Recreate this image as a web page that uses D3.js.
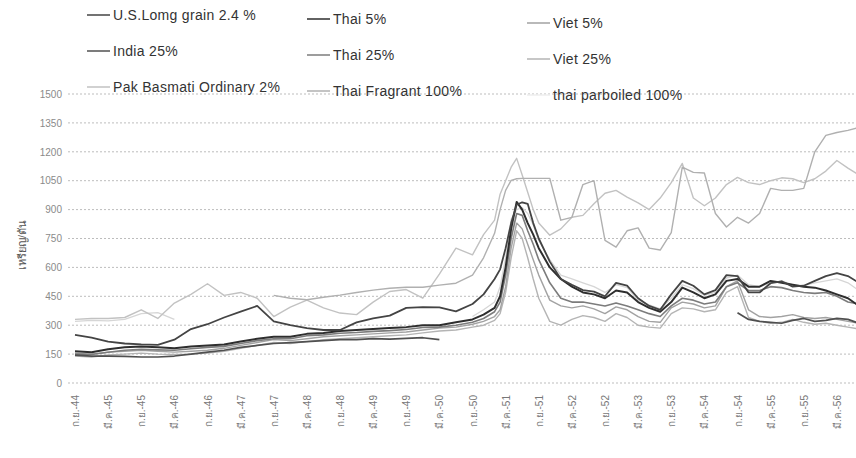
<!DOCTYPE html>
<html>
<head>
<meta charset="utf-8">
<script src="https://cdn.jsdelivr.net/npm/d3@7"></script>
<style>
  body { margin: 0; background: #fff; }
  svg { display: block; font-family: "Liberation Sans", Arial, sans-serif; }
</style>
</head>
<body>
<script>
// month index from ก.ย.-44 (Sep 2001)
const months = [0,3,6,9,12,15,18,21,24,27,30,33,36,39,42,45,48,51,54,57,60,63,66,69,72,
  74,76,77,78,79,80,81,82,83,84,
  86,88,90,92,94,96,98,100,102,104,106,108,110,112,114,116,118,120,122,124,126,128,130,132,134,136,138,140,142,144];

const xLabels = ['ก.ย.-44','มี.ค.-45','ก.ย.-45','มี.ค.-46','ก.ย.-46','มี.ค.-47','ก.ย.-47','มี.ค.-48',
  'ก.ย.-48','มี.ค.-49','ก.ย.-49','มี.ค.-50','ก.ย.-50','มี.ค.-51','ก.ย.-51','มี.ค.-52','ก.ย.-52',
  'มี.ค.-53','ก.ย.-53','มี.ค.-54','ก.ย.-54','มี.ค.-55','ก.ย.-55','มี.ค.-56','ก.ย.-56'];

const yTicks = [0,150,300,450,600,750,900,1050,1200,1350,1500];

const usLongGrain = [250,235,215,205,200,198,225,280,305,340,370,400,320,300,285,275,275,315,335,350,390,394,392,372,410,
  460,540,590,700,830,925,938,930,830,750,
  630,540,510,482,474,450,520,505,440,400,380,460,530,505,460,482,560,555,470,470,518,528,500,505,530,555,570,555,520,510];

const thai5 = [165,160,175,185,190,185,180,190,195,200,215,230,240,240,255,260,270,275,280,285,290,300,300,315,330,
  355,390,450,600,800,940,900,830,770,700,
  600,540,500,470,460,440,480,470,420,390,370,420,495,470,440,460,530,540,500,500,530,520,510,500,495,480,460,440,400,380];

const viet5 = [155,150,160,165,170,165,160,165,170,180,195,210,225,220,230,240,245,250,255,260,265,275,285,290,305,
  320,345,380,500,700,830,800,720,640,560,
  430,400,390,400,385,360,395,380,345,320,315,390,420,410,390,400,500,530,380,345,340,345,355,340,335,340,330,320,310,300];

const india25 = [145,140,140,138,135,135,140,150,160,170,185,195,205,210,215,220,225,225,230,228,232,235,225,null,null,
  null,null,null,null,null,null,null,null,null,null,
  null,null,null,null,null,null,null,null,null,null,null,null,null,null,null,null,null,365,330,320,315,310,325,335,320,325,335,330,310,300];

const thai25 = [150,148,160,170,175,172,170,178,185,190,205,220,230,230,245,250,258,262,268,272,278,288,290,300,315,
  335,370,420,560,750,880,870,790,720,640,
  520,440,420,420,410,400,415,400,380,360,345,400,440,430,410,420,500,520,480,480,500,495,480,470,465,470,450,420,410,400];

const viet25 = [140,135,145,150,155,150,148,150,155,165,180,195,210,205,215,225,230,235,240,245,250,260,270,275,290,
  300,325,360,470,650,790,750,650,540,440,
  320,300,330,350,340,320,360,340,300,290,285,360,390,385,370,380,470,500,340,320,310,315,330,315,305,310,300,290,280,270];

const pakBasmati = [330,335,335,340,380,335,415,460,515,455,470,440,345,394,430,390,363,355,420,475,485,440,565,700,665,
  770,845,980,1050,1120,1166,1080,990,900,830,
  767,800,860,870,930,985,1000,965,935,900,960,1040,1140,960,920,960,1030,1067,1040,1030,1050,1065,1060,1040,1060,1100,1155,1115,1080,1060];

const thaiFragrant = [null,null,null,null,null,null,null,null,null,null,null,null,455,440,432,445,456,470,482,492,497,497,508,518,560,
  650,777,900,1000,1052,1060,1062,1062,1062,1062,
  1062,845,860,1030,1050,740,705,790,805,700,690,780,1120,1093,1090,880,810,860,830,880,1010,1000,1000,1010,1200,1285,1300,1311,1326,1340];

const thaiParboiled = [320,325,322,330,360,365,330,null,null,null,null,null,null,null,null,null,null,null,null,null,null,null,null,null,345,
  380,420,500,650,850,900,910,880,820,740,
  640,560,540,520,500,470,510,495,430,405,385,440,510,490,455,470,545,560,510,500,520,530,510,505,520,530,540,520,480,450];

const seriesNames = ['U.S.Lomg grain 2.4 %','Thai 5%','Viet 5%','India 25%','Thai 25%','Viet 25%',
  'Pak Basmati Ordinary 2%','Thai Fragrant 100%','thai parboiled 100%'];
const seriesValues = [usLongGrain, thai5, viet5, india25, thai25, viet25, pakBasmati, thaiFragrant, thaiParboiled];
const seriesColors = ['#444','#2e2e2e','#a2a2a2','#505050','#7c7c7c','#b4b4b4','#c2c2c2','#b0b0b0','#d6d6d6'];
const seriesWidths = [1.8, 2, 1.4, 1.7, 1.6, 1.4, 1.4, 1.4, 1.3];
// draw light lines first so the dark ones sit on top
const drawOrder = [8, 6, 7, 5, 2, 4, 3, 1, 0];

const width = 856, height = 458;

const svg = d3.select('body').append('svg')
    .attr('width', width)
    .attr('height', height)
    .style('background', '#fff');

const x = d3.scaleLinear().domain([0, 144]).range([75, 870]);
const y = d3.scaleLinear().domain([0, 1500]).range([383, 94]);

// gridlines
svg.append('g')
    .selectAll('line')
    .data(yTicks)
    .join('line')
    .attr('x1', 68)
    .attr('x2', width)
    .attr('y1', d => y(d))
    .attr('y2', d => y(d))
    .attr('stroke', '#bdbdbd')
    .attr('stroke-width', 1)
    .attr('stroke-dasharray', '2,2');

// y axis labels
const yAxis = d3.axisLeft(y).tickValues(yTicks).tickFormat(d3.format('d')).tickSize(0).tickPadding(0);
svg.append('g')
    .attr('transform', 'translate(62,0)')
    .call(yAxis)
    .call(g => g.select('.domain').remove())
    .call(g => g.selectAll('text')
        .attr('fill', '#8a8a8a')
        .attr('font-size', '10px')
        .attr('font-family', '"Liberation Sans", Arial, sans-serif'));

// y axis title
svg.append('text')
    .attr('transform', 'translate(26,245) rotate(-90)')
    .attr('text-anchor', 'middle')
    .attr('fill', '#555')
    .attr('font-size', '11px')
    .text('เหรียญ/ตัน');

// x axis labels, one every 6 months
const xAxis = d3.axisBottom(x)
    .tickValues(xLabels.map((d, i) => i * 6))
    .tickFormat((d, i) => xLabels[i])
    .tickSize(0);
svg.append('g')
    .attr('transform', 'translate(0,393)')
    .call(xAxis)
    .call(g => g.select('.domain').remove())
    .call(g => g.selectAll('text')
        .attr('transform', 'rotate(-90)')
        .attr('text-anchor', 'end')
        .attr('x', -2)
        .attr('y', 0)
        .attr('dy', '0.35em')
        .attr('fill', '#777')
        .attr('font-size', '10px')
        .attr('font-family', '"Liberation Sans", Arial, sans-serif'));

// lines
const line = d3.line()
    .defined(d => d[1] != null)
    .x(d => x(d[0]))
    .y(d => y(d[1]));

const plot = svg.append('g')
    .attr('fill', 'none')
    .attr('stroke-linejoin', 'round');

drawOrder.forEach(i => {
    plot.append('path')
        .datum(months.map((m, k) => [m, seriesValues[i][k]]))
        .attr('d', line)
        .attr('stroke', seriesColors[i])
        .attr('stroke-width', seriesWidths[i]);
});

// legend: 3 columns x 3 rows, slightly tilted like the scan
const legendCols = [87, 307, 527];
const legendRows = [15, 51, 87];
const legend = svg.append('g');
seriesNames.forEach((name, i) => {
    const col = i % 3;
    const row = Math.floor(i / 3);
    const lx = legendCols[col];
    const ly = legendRows[row] + col * 4;
    legend.append('line')
        .attr('x1', lx).attr('x2', lx + 23)
        .attr('y1', ly).attr('y2', ly)
        .attr('stroke', i === 8 ? '#eee' : seriesColors[i])
        .attr('stroke-width', 1.5);
    legend.append('text')
        .attr('x', lx + 26)
        .attr('y', ly + 5)
        .attr('fill', '#333')
        .attr('font-size', '14px')
        .attr('letter-spacing', '0.3px')
        .text(name);
});
</script>
</body>
</html>
